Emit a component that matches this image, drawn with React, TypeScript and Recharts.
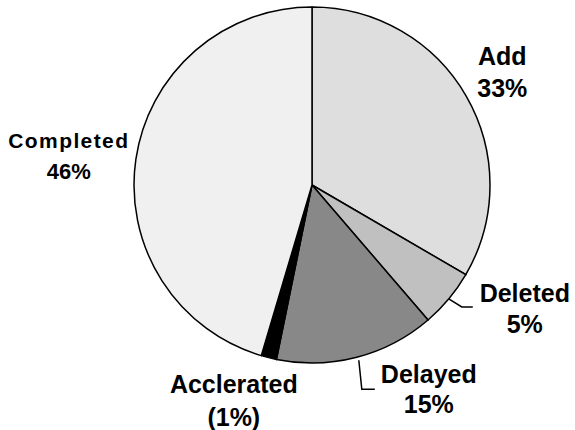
import { Cell, Pie, PieChart } from "recharts";

const CATEGORIES = ["Add", "Deleted", "Delayed", "Acclerated", "Completed"];
const VALUES = [33.4, 5.3, 14.5, 1.4, 45.4];
const PCT_LABELS = ["33%", "5%", "15%", "(1%)", "46%"];

const COLORS = ["#dedede", "#c0c0c0", "#888888", "#000000", "#f0f0f0"];

const data = CATEGORIES.map((name, i) => ({
  name,
  value: VALUES[i],
  pct: PCT_LABELS[i],
}));

const RADIAN = Math.PI / 180;

// label placement relative to the slice edge at midAngle
const LABEL_LAYOUT: Record<
  string,
  { dx: number; dy1: number; dy2: number; size: number; size2?: number; spacing?: number; leader?: number[][] }
> = {
  Add: { dx: 36, dy1: -31, dy2: 1, size: 25 },
  Deleted: { dx: 76, dy1: 3, dy2: 34, size: 25, leader: [[0, 0], [13, 8], [24, 8]] },
  Delayed: { dx: 72, dy1: 26, dy2: 56, size: 25, leader: [[2, 3], [5, 32], [18, 32]] },
  Acclerated: { dx: -35, dy1: 35, dy2: 68, size: 25 },
  Completed: { dx: -67, dy1: -11, dy2: 20, size: 21, size2: 22, spacing: 1.4 },
};

function renderLabel(props: any) {
  const { cx, cy, midAngle, outerRadius, index } = props;
  const name = CATEGORIES[index];
  const l = LABEL_LAYOUT[name];
  const ex = cx + outerRadius * Math.cos(-midAngle * RADIAN);
  const ey = cy + outerRadius * Math.sin(-midAngle * RADIAN);
  const style = {
    fontFamily: "'Liberation Sans', Arial, sans-serif",
    fontWeight: 700,
    fontSize: l.size,
    letterSpacing: l.spacing ?? 0,
  };
  return (
    <g key={`lbl-${index}`}>
      {l.leader && (
        <polyline
          points={l.leader.map(([x, y]) => `${ex + x},${ey + y}`).join(" ")}
          fill="none"
          stroke="#000"
          strokeWidth={1.5}
        />
      )}
      <text x={ex + l.dx} y={ey + l.dy1} textAnchor="middle" fill="#000" style={style}>
        {name}
      </text>
      <text
        x={ex + l.dx}
        y={ey + l.dy2}
        textAnchor="middle"
        fill="#000"
        style={{ ...style, fontSize: l.size2 ?? l.size, letterSpacing: 0 }}
      >
        {PCT_LABELS[index]}
      </text>
    </g>
  );
}

export default function App() {
  return (
    <div style={{ position: "absolute", left: 0, top: 0, width: 575, height: 430, background: "#fff" }}>
      <PieChart width={575} height={430} margin={{ top: 0, right: 0, bottom: 0, left: 0 }}>
        <Pie
          data={data}
          dataKey="value"
          nameKey="name"
          cx={312}
          cy={185}
          outerRadius={178}
          startAngle={90}
          endAngle={-270}
          stroke="#000"
          strokeWidth={1.5}
          label={renderLabel}
          labelLine={false}
          isAnimationActive={false}
        >
          {data.map((entry, i) => (
            <Cell key={entry.name} fill={COLORS[i]} />
          ))}
        </Pie>
      </PieChart>
    </div>
  );
}
